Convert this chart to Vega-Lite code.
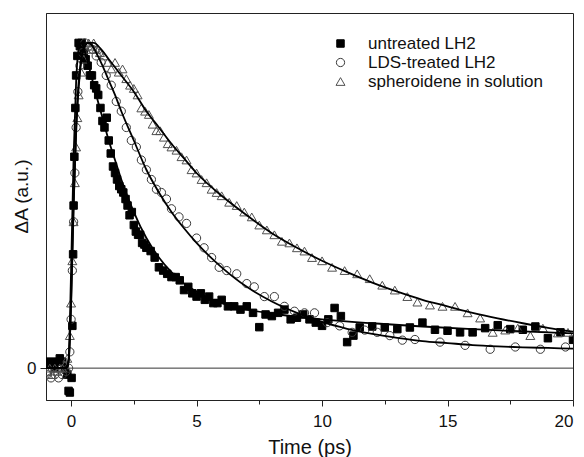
{
  "$schema": "https://vega.github.io/schema/vega-lite/v6.json",
  "autosize": {"type": "none"},
  "padding": {"left": 46, "top": 13, "right": 11, "bottom": 57},
  "width": 527,
  "height": 387,
  "background": "white",
  "config": {
    "view": {"stroke": "#222222", "strokeWidth": 1},
    "font": "Liberation Sans",
    "axis": {"grid": false, "domainColor": "#222222", "tickColor": "#222222", "labelColor": "#111111", "titleColor": "#111111", "titleFontWeight": "normal", "labelFont": "Liberation Sans", "titleFont": "Liberation Sans"}
  },
  "datasets": {
    "pts": [
      {"series":"untreated LH2","t":-0.95,"v":0.015},{"series":"untreated LH2","t":-0.85,"v":0.02},{"series":"untreated LH2","t":-0.75,"v":0.01},{"series":"untreated LH2","t":-0.65,"v":0.0},{"series":"untreated LH2","t":-0.55,"v":0.02},{"series":"untreated LH2","t":-0.45,"v":0.03},{"series":"untreated LH2","t":-0.35,"v":0.02},{"series":"untreated LH2","t":-0.25,"v":0.0},{"series":"untreated LH2","t":-0.15,"v":-0.02},{"series":"untreated LH2","t":-0.1,"v":-0.07},{"series":"untreated LH2","t":-0.05,"v":-0.075},{"series":"untreated LH2","t":0.02,"v":-0.03},{"series":"untreated LH2","t":0.05,"v":0.13},{"series":"untreated LH2","t":0.08,"v":0.35},{"series":"untreated LH2","t":0.1,"v":0.5},{"series":"untreated LH2","t":0.13,"v":0.65},{"series":"untreated LH2","t":0.17,"v":0.8},{"series":"untreated LH2","t":0.2,"v":0.9},{"series":"untreated LH2","t":0.25,"v":0.96},{"series":"untreated LH2","t":0.3,"v":1.0},{"series":"untreated LH2","t":0.35,"v":0.99},{"series":"untreated LH2","t":0.42,"v":1.0},{"series":"untreated LH2","t":0.5,"v":0.97},{"series":"untreated LH2","t":0.58,"v":0.95},{"series":"untreated LH2","t":0.66,"v":0.93},{"series":"untreated LH2","t":0.75,"v":0.9},{"series":"untreated LH2","t":0.83,"v":0.9},{"series":"untreated LH2","t":0.92,"v":0.87},{"series":"untreated LH2","t":1.0,"v":0.86},{"series":"untreated LH2","t":1.08,"v":0.84},{"series":"untreated LH2","t":1.17,"v":0.8},{"series":"untreated LH2","t":1.25,"v":0.76},{"series":"untreated LH2","t":1.33,"v":0.74},{"series":"untreated LH2","t":1.42,"v":0.77},{"series":"untreated LH2","t":1.5,"v":0.7},{"series":"untreated LH2","t":1.58,"v":0.66},{"series":"untreated LH2","t":1.67,"v":0.62},{"series":"untreated LH2","t":1.75,"v":0.6},{"series":"untreated LH2","t":1.83,"v":0.58},{"series":"untreated LH2","t":1.92,"v":0.56},{"series":"untreated LH2","t":2.0,"v":0.55},{"series":"untreated LH2","t":2.08,"v":0.54},{"series":"untreated LH2","t":2.17,"v":0.52},{"series":"untreated LH2","t":2.25,"v":0.5},{"series":"untreated LH2","t":2.33,"v":0.47},{"series":"untreated LH2","t":2.42,"v":0.48},{"series":"untreated LH2","t":2.5,"v":0.44},{"series":"untreated LH2","t":2.58,"v":0.42},{"series":"untreated LH2","t":2.67,"v":0.41},{"series":"untreated LH2","t":2.75,"v":0.41},{"series":"untreated LH2","t":2.83,"v":0.385},{"series":"untreated LH2","t":2.92,"v":0.38},{"series":"untreated LH2","t":3.0,"v":0.37},{"series":"untreated LH2","t":3.17,"v":0.36},{"series":"untreated LH2","t":3.33,"v":0.34},{"series":"untreated LH2","t":3.5,"v":0.31},{"series":"untreated LH2","t":3.67,"v":0.3},{"series":"untreated LH2","t":3.83,"v":0.29},{"series":"untreated LH2","t":4.0,"v":0.28},{"series":"untreated LH2","t":4.17,"v":0.28},{"series":"untreated LH2","t":4.33,"v":0.27},{"series":"untreated LH2","t":4.5,"v":0.24},{"series":"untreated LH2","t":4.67,"v":0.25},{"series":"untreated LH2","t":4.83,"v":0.23},{"series":"untreated LH2","t":5.0,"v":0.22},{"series":"untreated LH2","t":5.17,"v":0.23},{"series":"untreated LH2","t":5.33,"v":0.21},{"series":"untreated LH2","t":5.5,"v":0.22},{"series":"untreated LH2","t":5.67,"v":0.2},{"series":"untreated LH2","t":5.83,"v":0.2},{"series":"untreated LH2","t":6.0,"v":0.21},{"series":"untreated LH2","t":6.25,"v":0.19},{"series":"untreated LH2","t":6.5,"v":0.19},{"series":"untreated LH2","t":6.75,"v":0.18},{"series":"untreated LH2","t":7.0,"v":0.19},{"series":"untreated LH2","t":7.25,"v":0.17},{"series":"untreated LH2","t":7.5,"v":0.126},{"series":"untreated LH2","t":7.75,"v":0.165},{"series":"untreated LH2","t":8.0,"v":0.16},{"series":"untreated LH2","t":8.25,"v":0.17},{"series":"untreated LH2","t":8.5,"v":0.18},{"series":"untreated LH2","t":8.75,"v":0.15},{"series":"untreated LH2","t":9.0,"v":0.155},{"series":"untreated LH2","t":9.25,"v":0.165},{"series":"untreated LH2","t":9.5,"v":0.15},{"series":"untreated LH2","t":9.75,"v":0.14},{"series":"untreated LH2","t":10.0,"v":0.13},{"series":"untreated LH2","t":10.25,"v":0.15},{"series":"untreated LH2","t":10.5,"v":0.185},{"series":"untreated LH2","t":10.75,"v":0.16},{"series":"untreated LH2","t":11.0,"v":0.08},{"series":"untreated LH2","t":11.25,"v":0.1},{"series":"untreated LH2","t":11.5,"v":0.125},{"series":"untreated LH2","t":12.0,"v":0.128},{"series":"untreated LH2","t":12.5,"v":0.125},{"series":"untreated LH2","t":13.0,"v":0.12},{"series":"untreated LH2","t":13.5,"v":0.125},{"series":"untreated LH2","t":14.0,"v":0.14},{"series":"untreated LH2","t":14.5,"v":0.118},{"series":"untreated LH2","t":15.0,"v":0.115},{"series":"untreated LH2","t":15.5,"v":0.11},{"series":"untreated LH2","t":16.0,"v":0.11},{"series":"untreated LH2","t":16.5,"v":0.123},{"series":"untreated LH2","t":17.0,"v":0.132},{"series":"untreated LH2","t":17.5,"v":0.12},{"series":"untreated LH2","t":18.0,"v":0.118},{"series":"untreated LH2","t":18.5,"v":0.128},{"series":"untreated LH2","t":19.0,"v":0.092},{"series":"untreated LH2","t":19.5,"v":0.11},{"series":"untreated LH2","t":20.0,"v":0.087},
      {"series":"LDS-treated LH2","t":-0.95,"v":-0.02},{"series":"LDS-treated LH2","t":-0.8,"v":-0.03},{"series":"LDS-treated LH2","t":-0.65,"v":-0.02},{"series":"LDS-treated LH2","t":-0.5,"v":-0.03},{"series":"LDS-treated LH2","t":-0.35,"v":-0.02},{"series":"LDS-treated LH2","t":-0.2,"v":-0.01},{"series":"LDS-treated LH2","t":-0.1,"v":0.0},{"series":"LDS-treated LH2","t":-0.05,"v":0.05},{"series":"LDS-treated LH2","t":0.0,"v":0.15},{"series":"LDS-treated LH2","t":0.05,"v":0.3},{"series":"LDS-treated LH2","t":0.1,"v":0.45},{"series":"LDS-treated LH2","t":0.15,"v":0.6},{"series":"LDS-treated LH2","t":0.2,"v":0.74},{"series":"LDS-treated LH2","t":0.27,"v":0.85},{"series":"LDS-treated LH2","t":0.35,"v":0.93},{"series":"LDS-treated LH2","t":0.45,"v":0.97},{"series":"LDS-treated LH2","t":0.55,"v":1.0},{"series":"LDS-treated LH2","t":0.7,"v":0.99},{"series":"LDS-treated LH2","t":0.85,"v":0.98},{"series":"LDS-treated LH2","t":1.0,"v":0.96},{"series":"LDS-treated LH2","t":1.2,"v":0.94},{"series":"LDS-treated LH2","t":1.4,"v":0.9},{"series":"LDS-treated LH2","t":1.6,"v":0.87},{"series":"LDS-treated LH2","t":1.8,"v":0.82},{"series":"LDS-treated LH2","t":2.0,"v":0.79},{"series":"LDS-treated LH2","t":2.2,"v":0.74},{"series":"LDS-treated LH2","t":2.4,"v":0.7},{"series":"LDS-treated LH2","t":2.6,"v":0.68},{"series":"LDS-treated LH2","t":2.8,"v":0.64},{"series":"LDS-treated LH2","t":3.0,"v":0.61},{"series":"LDS-treated LH2","t":3.2,"v":0.58},{"series":"LDS-treated LH2","t":3.4,"v":0.55},{"series":"LDS-treated LH2","t":3.6,"v":0.54},{"series":"LDS-treated LH2","t":3.8,"v":0.52},{"series":"LDS-treated LH2","t":4.0,"v":0.49},{"series":"LDS-treated LH2","t":4.3,"v":0.465},{"series":"LDS-treated LH2","t":4.6,"v":0.445},{"series":"LDS-treated LH2","t":5.0,"v":0.4},{"series":"LDS-treated LH2","t":5.3,"v":0.37},{"series":"LDS-treated LH2","t":5.6,"v":0.34},{"series":"LDS-treated LH2","t":5.9,"v":0.31},{"series":"LDS-treated LH2","t":6.2,"v":0.3},{"series":"LDS-treated LH2","t":6.6,"v":0.29},{"series":"LDS-treated LH2","t":7.0,"v":0.26},{"series":"LDS-treated LH2","t":7.3,"v":0.25},{"series":"LDS-treated LH2","t":7.7,"v":0.22},{"series":"LDS-treated LH2","t":8.1,"v":0.22},{"series":"LDS-treated LH2","t":8.5,"v":0.19},{"series":"LDS-treated LH2","t":8.9,"v":0.175},{"series":"LDS-treated LH2","t":9.3,"v":0.17},{"series":"LDS-treated LH2","t":9.7,"v":0.17},{"series":"LDS-treated LH2","t":10.2,"v":0.14},{"series":"LDS-treated LH2","t":10.7,"v":0.13},{"series":"LDS-treated LH2","t":11.2,"v":0.11},{"series":"LDS-treated LH2","t":11.7,"v":0.117},{"series":"LDS-treated LH2","t":12.2,"v":0.11},{"series":"LDS-treated LH2","t":12.7,"v":0.1},{"series":"LDS-treated LH2","t":13.2,"v":0.086},{"series":"LDS-treated LH2","t":13.7,"v":0.088},{"series":"LDS-treated LH2","t":14.7,"v":0.08},{"series":"LDS-treated LH2","t":15.7,"v":0.07},{"series":"LDS-treated LH2","t":16.7,"v":0.058},{"series":"LDS-treated LH2","t":17.7,"v":0.065},{"series":"LDS-treated LH2","t":18.7,"v":0.058},{"series":"LDS-treated LH2","t":19.7,"v":0.065},
      {"series":"spheroidene in solution","t":-0.95,"v":-0.01},{"series":"spheroidene in solution","t":-0.85,"v":0.0},{"series":"spheroidene in solution","t":-0.75,"v":-0.02},{"series":"spheroidene in solution","t":-0.65,"v":0.0},{"series":"spheroidene in solution","t":-0.55,"v":-0.01},{"series":"spheroidene in solution","t":-0.45,"v":0.0},{"series":"spheroidene in solution","t":-0.35,"v":0.0},{"series":"spheroidene in solution","t":-0.25,"v":0.01},{"series":"spheroidene in solution","t":-0.15,"v":0.03},{"series":"spheroidene in solution","t":-0.05,"v":0.1},{"series":"spheroidene in solution","t":0.0,"v":0.2},{"series":"spheroidene in solution","t":0.05,"v":0.33},{"series":"spheroidene in solution","t":0.1,"v":0.45},{"series":"spheroidene in solution","t":0.15,"v":0.57},{"series":"spheroidene in solution","t":0.2,"v":0.68},{"series":"spheroidene in solution","t":0.25,"v":0.77},{"series":"spheroidene in solution","t":0.3,"v":0.84},{"series":"spheroidene in solution","t":0.4,"v":0.91},{"series":"spheroidene in solution","t":0.5,"v":0.95},{"series":"spheroidene in solution","t":0.6,"v":0.98},{"series":"spheroidene in solution","t":0.7,"v":1.0},{"series":"spheroidene in solution","t":0.8,"v":0.99},{"series":"spheroidene in solution","t":0.9,"v":1.0},{"series":"spheroidene in solution","t":1.0,"v":0.98},{"series":"spheroidene in solution","t":1.15,"v":0.97},{"series":"spheroidene in solution","t":1.3,"v":0.96},{"series":"spheroidene in solution","t":1.45,"v":0.94},{"series":"spheroidene in solution","t":1.6,"v":0.92},{"series":"spheroidene in solution","t":1.75,"v":0.94},{"series":"spheroidene in solution","t":1.9,"v":0.91},{"series":"spheroidene in solution","t":2.05,"v":0.92},{"series":"spheroidene in solution","t":2.2,"v":0.89},{"series":"spheroidene in solution","t":2.35,"v":0.87},{"series":"spheroidene in solution","t":2.5,"v":0.86},{"series":"spheroidene in solution","t":2.65,"v":0.84},{"series":"spheroidene in solution","t":2.8,"v":0.8},{"series":"spheroidene in solution","t":2.95,"v":0.79},{"series":"spheroidene in solution","t":3.1,"v":0.78},{"series":"spheroidene in solution","t":3.25,"v":0.75},{"series":"spheroidene in solution","t":3.4,"v":0.73},{"series":"spheroidene in solution","t":3.55,"v":0.73},{"series":"spheroidene in solution","t":3.7,"v":0.71},{"series":"spheroidene in solution","t":3.85,"v":0.69},{"series":"spheroidene in solution","t":4.0,"v":0.68},{"series":"spheroidene in solution","t":4.2,"v":0.67},{"series":"spheroidene in solution","t":4.4,"v":0.65},{"series":"spheroidene in solution","t":4.6,"v":0.64},{"series":"spheroidene in solution","t":4.8,"v":0.61},{"series":"spheroidene in solution","t":5.0,"v":0.6},{"series":"spheroidene in solution","t":5.2,"v":0.58},{"series":"spheroidene in solution","t":5.4,"v":0.57},{"series":"spheroidene in solution","t":5.6,"v":0.55},{"series":"spheroidene in solution","t":5.8,"v":0.54},{"series":"spheroidene in solution","t":6.0,"v":0.53},{"series":"spheroidene in solution","t":6.3,"v":0.51},{"series":"spheroidene in solution","t":6.6,"v":0.5},{"series":"spheroidene in solution","t":6.9,"v":0.48},{"series":"spheroidene in solution","t":7.2,"v":0.465},{"series":"spheroidene in solution","t":7.5,"v":0.44},{"series":"spheroidene in solution","t":7.8,"v":0.425},{"series":"spheroidene in solution","t":8.1,"v":0.41},{"series":"spheroidene in solution","t":8.4,"v":0.39},{"series":"spheroidene in solution","t":8.7,"v":0.385},{"series":"spheroidene in solution","t":9.0,"v":0.37},{"series":"spheroidene in solution","t":9.3,"v":0.36},{"series":"spheroidene in solution","t":9.6,"v":0.34},{"series":"spheroidene in solution","t":10.0,"v":0.33},{"series":"spheroidene in solution","t":10.4,"v":0.31},{"series":"spheroidene in solution","t":10.9,"v":0.3},{"series":"spheroidene in solution","t":11.4,"v":0.29},{"series":"spheroidene in solution","t":11.9,"v":0.275},{"series":"spheroidene in solution","t":12.4,"v":0.255},{"series":"spheroidene in solution","t":12.9,"v":0.24},{"series":"spheroidene in solution","t":13.4,"v":0.22},{"series":"spheroidene in solution","t":13.8,"v":0.203},{"series":"spheroidene in solution","t":14.3,"v":0.194},{"series":"spheroidene in solution","t":14.8,"v":0.19},{"series":"spheroidene in solution","t":15.3,"v":0.19},{"series":"spheroidene in solution","t":15.8,"v":0.17},{"series":"spheroidene in solution","t":16.3,"v":0.154},{"series":"spheroidene in solution","t":16.8,"v":0.11},{"series":"spheroidene in solution","t":17.3,"v":0.117},{"series":"spheroidene in solution","t":17.8,"v":0.123},{"series":"spheroidene in solution","t":18.3,"v":0.1},{"series":"spheroidene in solution","t":18.8,"v":0.123},{"series":"spheroidene in solution","t":19.4,"v":0.108},{"series":"spheroidene in solution","t":19.8,"v":0.11}
    ],
    "fit": [
      {"series":"u","t":-1,"v":0},{"series":"u","t":-0.2,"v":0},{"series":"u","t":-0.1,"v":0.03},{"series":"u","t":0,"v":0.3},{"series":"u","t":0.1,"v":0.65},{"series":"u","t":0.2,"v":0.88},{"series":"u","t":0.3,"v":0.98},{"series":"u","t":0.4,"v":1.0},{"series":"u","t":0.5,"v":0.985},{"series":"u","t":0.7,"v":0.93},{"series":"u","t":1.0,"v":0.84},{"series":"u","t":1.25,"v":0.77},{"series":"u","t":1.5,"v":0.7},{"series":"u","t":1.75,"v":0.64},{"series":"u","t":2,"v":0.58},{"series":"u","t":2.5,"v":0.48},{"series":"u","t":3,"v":0.4},{"series":"u","t":3.5,"v":0.34},{"series":"u","t":4,"v":0.295},{"series":"u","t":4.5,"v":0.26},{"series":"u","t":5,"v":0.235},{"series":"u","t":5.5,"v":0.215},{"series":"u","t":6,"v":0.2},{"series":"u","t":7,"v":0.18},{"series":"u","t":8,"v":0.168},{"series":"u","t":9,"v":0.158},{"series":"u","t":10,"v":0.15},{"series":"u","t":12,"v":0.138},{"series":"u","t":14,"v":0.128},{"series":"u","t":16,"v":0.12},{"series":"u","t":18,"v":0.113},{"series":"u","t":20,"v":0.107},
      {"series":"l","t":-1,"v":0},{"series":"l","t":-0.2,"v":0},{"series":"l","t":-0.1,"v":0.02},{"series":"l","t":0,"v":0.2},{"series":"l","t":0.1,"v":0.5},{"series":"l","t":0.2,"v":0.74},{"series":"l","t":0.3,"v":0.88},{"series":"l","t":0.4,"v":0.95},{"series":"l","t":0.5,"v":0.985},{"series":"l","t":0.65,"v":1.0},{"series":"l","t":0.8,"v":0.995},{"series":"l","t":1.0,"v":0.97},{"series":"l","t":1.25,"v":0.93},{"series":"l","t":1.5,"v":0.885},{"series":"l","t":1.75,"v":0.84},{"series":"l","t":2,"v":0.79},{"series":"l","t":2.5,"v":0.7},{"series":"l","t":3,"v":0.61},{"series":"l","t":3.5,"v":0.54},{"series":"l","t":4,"v":0.48},{"series":"l","t":4.5,"v":0.43},{"series":"l","t":5,"v":0.385},{"series":"l","t":5.5,"v":0.345},{"series":"l","t":6,"v":0.31},{"series":"l","t":7,"v":0.25},{"series":"l","t":8,"v":0.205},{"series":"l","t":9,"v":0.17},{"series":"l","t":10,"v":0.142},{"series":"l","t":11,"v":0.121},{"series":"l","t":12,"v":0.105},{"series":"l","t":13,"v":0.093},{"series":"l","t":14,"v":0.083},{"series":"l","t":15,"v":0.077},{"series":"l","t":16,"v":0.071},{"series":"l","t":17,"v":0.067},{"series":"l","t":18,"v":0.064},{"series":"l","t":19,"v":0.062},{"series":"l","t":20,"v":0.06},
      {"series":"s","t":-1,"v":0},{"series":"s","t":-0.2,"v":0},{"series":"s","t":-0.1,"v":0.02},{"series":"s","t":0,"v":0.2},{"series":"s","t":0.1,"v":0.5},{"series":"s","t":0.2,"v":0.72},{"series":"s","t":0.3,"v":0.86},{"series":"s","t":0.4,"v":0.94},{"series":"s","t":0.5,"v":0.98},{"series":"s","t":0.7,"v":1.0},{"series":"s","t":0.9,"v":1.0},{"series":"s","t":1.2,"v":0.98},{"series":"s","t":1.5,"v":0.95},{"series":"s","t":2,"v":0.9},{"series":"s","t":2.5,"v":0.85},{"series":"s","t":3,"v":0.79},{"series":"s","t":3.5,"v":0.74},{"series":"s","t":4,"v":0.69},{"series":"s","t":4.5,"v":0.645},{"series":"s","t":5,"v":0.6},{"series":"s","t":6,"v":0.53},{"series":"s","t":7,"v":0.47},{"series":"s","t":8,"v":0.415},{"series":"s","t":9,"v":0.37},{"series":"s","t":10,"v":0.33},{"series":"s","t":11,"v":0.295},{"series":"s","t":12,"v":0.263},{"series":"s","t":13,"v":0.235},{"series":"s","t":14,"v":0.21},{"series":"s","t":15,"v":0.19},{"series":"s","t":16,"v":0.17},{"series":"s","t":17,"v":0.153},{"series":"s","t":18,"v":0.138},{"series":"s","t":19,"v":0.124},{"series":"s","t":20,"v":0.112}
    ]
  },
  "resolve": {"axis": {"x": "independent"}},
  "layer": [
    {
      "data": {"values": [{"z": 0}]},
      "mark": {"type": "rule", "color": "#333333", "strokeWidth": 1},
      "encoding": {"y": {"field": "z", "type": "quantitative", "scale": {"domain": [-0.098, 1.092], "nice": false, "zero": false}}}
    },
    {
      "data": {"name": "pts"},
      "mark": {"type": "point", "opacity": 1, "strokeWidth": 1, "clip": true},
      "encoding": {
        "x": {"field": "t", "type": "quantitative", "scale": {"domain": [-1, 20], "nice": false, "zero": false},
              "axis": {"values": [0, 5, 10, 15, 20], "tickSize": 6, "labelFontSize": 17, "labelPadding": 7, "title": "Time (ps)", "titleFontSize": 20, "titleBaseline": "alphabetic", "titleY": 53, "domain": true}},
        "y": {"field": "v", "type": "quantitative", "scale": {"domain": [-0.098, 1.092], "nice": false, "zero": false},
              "axis": {"values": [0], "format": ".0f", "tickSize": 6, "labelFontSize": 17, "labelPadding": 4, "title": "ΔA (a.u.)", "titleFontSize": 19, "titleBaseline": "middle", "titleX": -25, "titleY": 183}},
        "shape": {"field": "series", "type": "nominal",
                  "scale": {"domain": ["untreated LH2", "LDS-treated LH2", "spheroidene in solution"], "range": ["square", "circle", "triangle-up"]},
                  "legend": {"title": null, "orient": "none", "legendX": 286, "legendY": 22, "padding": 0, "labelFontSize": 17, "labelOffset": 19, "labelLimit": 400, "rowPadding": 1, "symbolStrokeWidth": 1, "labelColor": "#111111",
                             "encode": {"symbols": {"update": {"size": {"value": 38}}}}}},
        "fill": {"field": "series", "type": "nominal",
                 "scale": {"domain": ["untreated LH2", "LDS-treated LH2", "spheroidene in solution"], "range": ["#000000", "transparent", "transparent"]}},
        "stroke": {"field": "series", "type": "nominal",
                   "scale": {"domain": ["untreated LH2", "LDS-treated LH2", "spheroidene in solution"], "range": ["#000000", "#3a3a3a", "#505050"]}},
        "size": {"field": "series", "type": "nominal",
                 "scale": {"domain": ["untreated LH2", "LDS-treated LH2", "spheroidene in solution"], "range": [56, 80, 85]}}
      }
    },
    {
      "data": {"name": "fit"},
      "mark": {"type": "line", "color": "#000000", "strokeWidth": 1.8, "interpolate": "monotone", "clip": true},
      "encoding": {
        "x": {"field": "t", "type": "quantitative", "scale": {"domain": [-1, 20], "nice": false, "zero": false},
              "axis": {"values": [2.5, 7.5, 12.5, 17.5], "labels": false, "tickSize": 4, "domain": false, "title": null, "orient": "bottom"}},
        "y": {"field": "v", "type": "quantitative"},
        "detail": {"field": "series", "type": "nominal"}
      }
    }
  ]
}
